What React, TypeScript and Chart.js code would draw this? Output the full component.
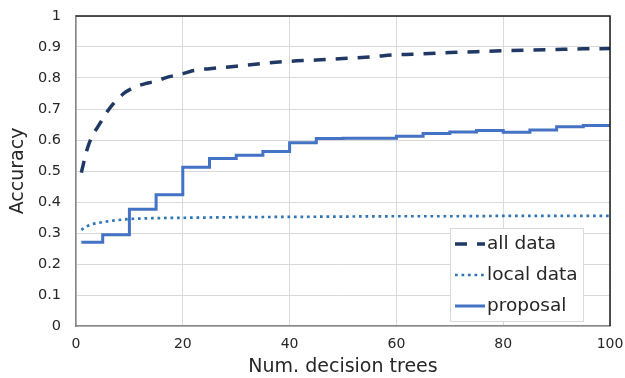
import React, { useEffect, useRef } from "react";
import { Chart, registerables } from "chart.js";
Chart.register(...registerables);

const seriesNames = ["all data", "local data", "proposal"];

const allDataX = [1, 2, 3, 4, 5, 6, 7, 8, 9, 10, 11, 12, 13, 14, 15, 17, 20, 22, 25, 30, 35, 40, 45, 50, 55, 60, 65, 70, 75, 80, 85, 90, 95, 100];
const allDataY = [0.495, 0.565, 0.612, 0.64, 0.668, 0.695, 0.717, 0.735, 0.751, 0.762, 0.771, 0.777, 0.782, 0.786, 0.79, 0.802, 0.814, 0.824, 0.83, 0.838, 0.847, 0.854, 0.858, 0.863, 0.868, 0.875, 0.878, 0.882, 0.885, 0.888, 0.89, 0.892, 0.894, 0.895];

const localDataX = [1, 2, 3, 4, 5, 7, 10, 15, 20, 30, 40, 50, 60, 70, 80, 90, 100];
const localDataY = [0.31, 0.321, 0.328, 0.332, 0.335, 0.34, 0.345, 0.348, 0.349, 0.351, 0.352, 0.353, 0.354, 0.354, 0.355, 0.355, 0.355];

const proposalX = [1, 5, 10, 15, 20, 25, 30, 35, 40, 45, 50, 55, 60, 65, 70, 75, 80, 85, 90, 95, 100];
const proposalY = [0.27, 0.294, 0.377, 0.423, 0.512, 0.54, 0.551, 0.563, 0.591, 0.605, 0.606, 0.606, 0.612, 0.621, 0.626, 0.631, 0.625, 0.632, 0.643, 0.647, 0.648];

const xTickStep = 20;
const yTickStep = 0.1;

const FONT = "'DejaVu Sans', Verdana, sans-serif";
const TEXT = "#262626";

const toPoints = (xs: number[], ys: number[]) => xs.map((x, i) => ({ x, y: ys[i] }));

const borderPlugin = {
  id: "plotBorder",
  afterDatasetsDraw(chart: any) {
    const { ctx, chartArea } = chart;
    ctx.save();
    ctx.strokeStyle = "#1a1a1a";
    ctx.lineWidth = 1.5;
    ctx.beginPath();
    ctx.moveTo(chartArea.left, chartArea.top);
    ctx.lineTo(chartArea.right, chartArea.top);
    ctx.lineTo(chartArea.right, chartArea.bottom);
    ctx.stroke();
    ctx.restore();
  },
};

const legendPlugin = {
  id: "insideLegend",
  afterDraw(chart: any) {
    const { ctx, chartArea } = chart;
    const left = chartArea.right - 160;
    const right = chartArea.right - 27;
    const top = chartArea.bottom - 98;
    const bottom = chartArea.bottom - 5;
    ctx.save();
    ctx.fillStyle = "#ffffff";
    ctx.fillRect(left, top, right - left, bottom - top);
    ctx.strokeStyle = "#d9d9d9";
    ctx.lineWidth = 1;
    ctx.strokeRect(left + 0.5, top + 0.5, right - left, bottom - top);
    chart.data.datasets.forEach((ds: any, i: number) => {
      const cy = top + 16 + i * 31;
      ctx.beginPath();
      ctx.strokeStyle = ds.borderColor;
      ctx.lineWidth = ds.borderWidth;
      ctx.setLineDash(ds.borderDash || []);
      ctx.moveTo(left + 5, cy);
      ctx.lineTo(left + 35, cy);
      ctx.stroke();
      ctx.setLineDash([]);
      ctx.fillStyle = TEXT;
      ctx.font = `18.5px ${FONT}`;
      ctx.textBaseline = "middle";
      ctx.textAlign = "left";
      ctx.fillText(ds.label, left + 37, cy);
    });
    ctx.restore();
  },
};

export default function App() {
  const ref = useRef<HTMLCanvasElement | null>(null);
  useEffect(() => {
    if (!ref.current) return;
    const chart = new Chart(ref.current, {
      type: "line",
      data: {
        datasets: [
          {
            label: seriesNames[0],
            data: toPoints(allDataX, allDataY),
            borderColor: "#203864",
            borderWidth: 3.5,
            borderDash: [12, 10],
            pointRadius: 0,
            cubicInterpolationMode: "monotone",
            fill: false,
          },
          {
            label: seriesNames[1],
            data: toPoints(localDataX, localDataY),
            borderColor: "#2E75B6",
            borderWidth: 2.7,
            borderDash: [2.7, 3.8],
            pointRadius: 0,
            cubicInterpolationMode: "monotone",
            fill: false,
          },
          {
            label: seriesNames[2],
            data: toPoints(proposalX, proposalY),
            borderColor: "#4472C4",
            borderWidth: 3,
            stepped: true,
            pointRadius: 0,
            fill: false,
          },
        ],
      } as any,
      options: {
        animation: false,
        responsive: false,
        maintainAspectRatio: false,
        layout: { padding: { top: 16, right: 15, left: 0, bottom: 0 } },
        plugins: { legend: { display: false }, tooltip: { enabled: false } },
        scales: {
          x: {
            type: "linear",
            min: 0,
            max: 100,
            ticks: { stepSize: xTickStep, font: { family: FONT, size: 14 }, color: TEXT, padding: 10, maxRotation: 0 },
            grid: { color: "#d9d9d9", lineWidth: 1, drawTicks: false },
            border: { color: "#868686", width: 1.5 },
            title: { display: true, text: "Num. decision trees", font: { family: FONT, size: 19 }, color: TEXT, padding: { top: 0, bottom: 0 } },
            afterFit: (s: any) => { s.height = 52; s.paddingLeft = 0; s.paddingRight = 0; },
          },
          y: {
            type: "linear",
            min: 0,
            max: 1,
            ticks: {
              stepSize: yTickStep,
              font: { family: FONT, size: 14.5 },
              color: TEXT,
              padding: 15,
              callback: (v: any) => String(Number(Number(v).toFixed(1))),
            },
            grid: { color: "#d9d9d9", lineWidth: 1, drawTicks: false },
            border: { color: "#868686", width: 1.5 },
            title: { display: true, text: "Accuracy", font: { family: FONT, size: 19 }, color: TEXT, padding: { top: 7, bottom: 0 } },
            afterFit: (s: any) => { s.width = 76; s.paddingTop = 0; s.paddingBottom = 0; },
          },
        },
      } as any,
      plugins: [borderPlugin, legendPlugin],
    });
    return () => chart.destroy();
  }, []);
  return (
    <div style={{ position: "fixed", left: 0, top: 0, width: 625, height: 378, background: "#fff" }}>
      <canvas ref={ref} width={625} height={378} style={{ display: "block" }} />
    </div>
  );
}
